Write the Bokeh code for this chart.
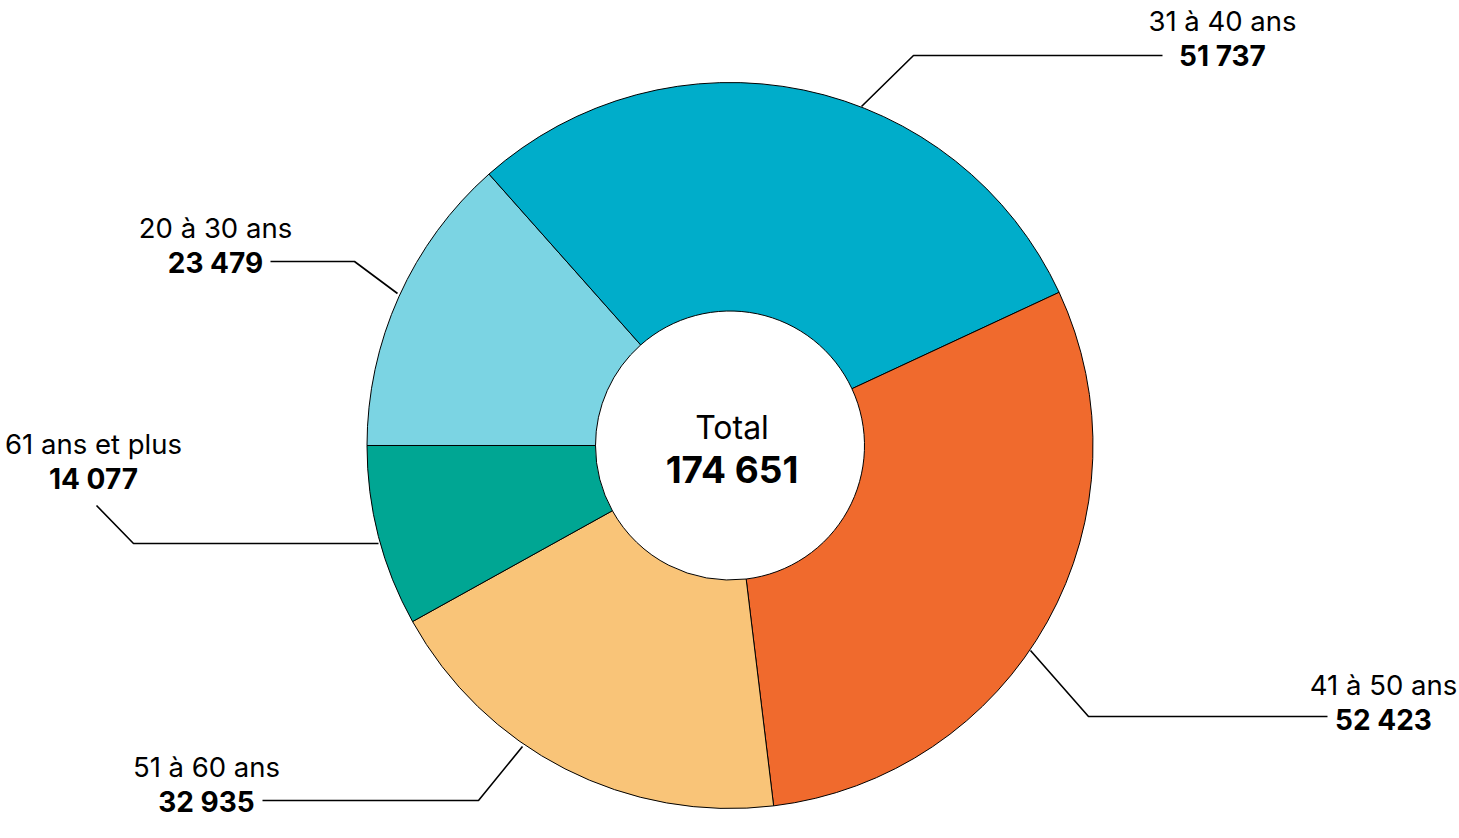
import math
from bokeh.plotting import figure
from bokeh.models import Range1d, ColumnDataSource
from bokeh.core.properties import value
from bokeh.embed import file_html
from bokeh.resources import INLINE

categories = ["20 à 30 ans", "31 à 40 ans", "41 à 50 ans", "51 à 60 ans", "61 ans et plus"]
values = [23479, 51737, 52423, 32935, 14077]
colors = ["#7BD4E3", "#00ADCA", "#F06A2D", "#F9C478", "#00A693"]

FONT = "Inter"
W, H = 1459, 838
p = figure(width=W, height=H, output_backend="svg", toolbar_location=None,
           x_range=Range1d(0, W), y_range=Range1d(-H, 0),
           min_border=0, outline_line_color=None)
p.axis.visible = False
p.grid.visible = False
p.background_fill_color = "white"
p.border_fill_color = "white"

total = sum(values)
cx, cy = 729.5, -445
r_out, r_in = 363, 134.5
starts, ends = [], []
cum = 0
for v in values:
    starts.append(math.pi - 2 * math.pi * cum / total)
    cum += v
    ends.append(math.pi - 2 * math.pi * cum / total)

src = ColumnDataSource(dict(start=starts, end=ends, color=colors, cat=categories, val=values))
p.annular_wedge(x=cx, y=cy, inner_radius=r_in, outer_radius=r_out,
                start_angle="start", end_angle="end", direction="clock",
                fill_color="color", line_color="black", line_width=1, source=src)

# leader lines (label layout)
leaders = {
    "20 à 30 ans": ([397, 354, 270], [293, 261, 261]),
    "31 à 40 ans": ([861, 913, 1162], [106, 55, 55]),
    "41 à 50 ans": ([1030, 1088, 1327], [650, 716, 716]),
    "51 à 60 ans": ([522, 478, 262], [746, 800, 800]),
    "61 ans et plus": ([378, 133, 96], [543, 543, 505]),
}
label_pos = {
    "20 à 30 ans": (215, 227),
    "31 à 40 ans": (1222, 20),
    "41 à 50 ans": (1383, 684),
    "51 à 60 ans": (206, 766),
    "61 ans et plus": (93, 443),
}
for c in categories:
    xs, ys = leaders[c]
    p.line(xs, [-y for y in ys], line_color="black", line_width=1.6)

def fmt(v):
    return f"{v:,}".replace(",", " ")

lx = [label_pos[c][0] for c in categories]
ly1 = [-label_pos[c][1] for c in categories]
ly2 = [-(label_pos[c][1] + 35) for c in categories]
p.text(x=lx, y=ly1, text=categories, text_font=value(FONT), text_font_size="27.5px",
       text_align="center", text_baseline="middle", text_color="black")
p.text(x=lx, y=ly2, text=[fmt(v) for v in values], text_font=value(FONT),
       text_font_size="28px", text_font_style="bold",
       text_align="center", text_baseline="middle", text_color="black")

p.text(x=[cx + 2], y=[-427], text=["Total"], text_font=value(FONT), text_font_size="32px",
       text_align="center", text_baseline="middle", text_color="black")
p.text(x=[cx + 2], y=[-469], text=[fmt(total)], text_font=value(FONT), text_font_size="37px",
       text_font_style="bold", text_align="center", text_baseline="middle", text_color="black")

open("out.html", "w").write(file_html(p, INLINE))
